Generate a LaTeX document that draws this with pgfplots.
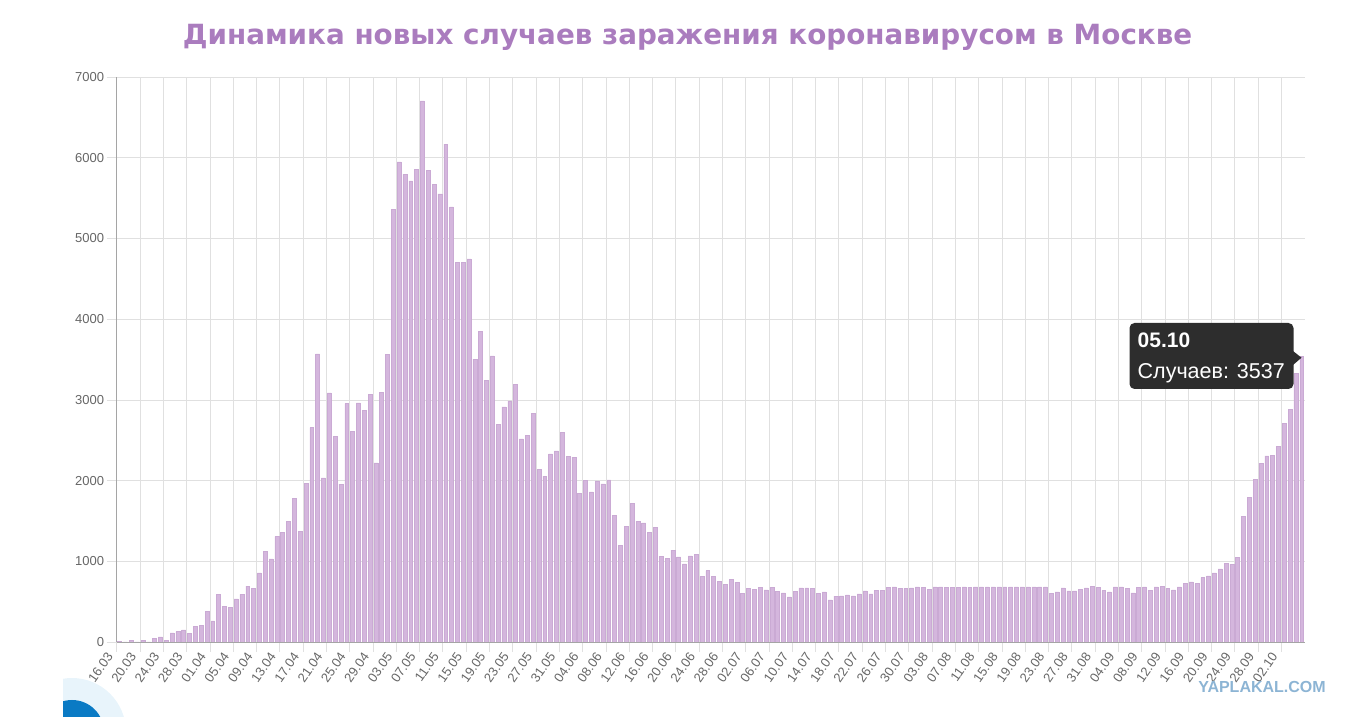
\documentclass[border=0pt]{standalone}
\usepackage{fontspec}
\setmainfont{Liberation Sans}
\newfontfamily\titlefont{DejaVu Sans}
\usepackage{pgfplots}
\usepackage{pgfplotstable}
\pgfplotsset{compat=1.18}
\definecolor{barfill}{RGB}{212,182,221}
\definecolor{barline}{RGB}{202,170,212}
\definecolor{titlecol}{RGB}{170,124,190}
\definecolor{gridcol}{RGB}{224,224,224}
\definecolor{axiscol}{RGB}{165,165,165}
\definecolor{tickcol}{RGB}{102,102,102}
\definecolor{tipcol}{RGB}{45,45,45}
\definecolor{wmcol}{RGB}{140,180,212}
\definecolor{iconblue}{RGB}{10,122,196}
\definecolor{iconlight}{RGB}{232,244,251}
\pgfplotstableread{
y
6
1
20
2
22
2
45
62
20
112
128
150
104
190
203
382
261
590
444
431
535
590
693
660
855
1124
1029
1307
1357
1490
1776
1373
1963
2656
3570
2033
3086
2548
1957
2953
2607
2962
2867
3071
2218
3090
3559
5358
5948
5795
5714
5858
6703
5846
5667
5551
6169
5392
4703
4703
4748
3505
3853
3238
3545
2699
2913
2988
3190
2516
2560
2830
2140
2054
2332
2367
2595
2303
2290
1846
2004
1859
1996
1959
2008
1573
1195
1436
1718
1494
1477
1361
1419
1062
1037
1137
1054
967
1066
1083
809
884
813
751
714
776
743
606
660
656
676
647
680
624
609
560
630
671
671
663
605
621
523
568
572
584
572
597
634
597
638
642
675
683
663
663
671
683
679
654
683
683
679
679
679
683
679
683
683
683
683
683
683
683
683
683
683
683
683
683
601
621
671
634
634
650
671
687
675
638
621
683
683
663
609
679
683
638
683
687
663
646
683
723
744
723
798
820
857
907
975
963
1050
1560
1792
2016
2217
2306
2311
2424
2704
2884
3327
3537
}\moscowdata
\begin{document}
\begin{tikzpicture}
\useasboundingbox (0pt,0pt) rectangle (1357pt,717pt);
\begin{scope}
\clip (63pt,-80pt) rectangle (200pt,60pt);
\fill[iconlight] (72pt,-15pt) circle (54pt);
\fill[iconblue] (72pt,-15pt) circle (32pt);
\end{scope}
\node[anchor=base, text=titlecol, font=\titlefont\fontsize{27.8}{32}\selectfont\bfseries] at (687.5pt,672pt) {Динамика новых случаев заражения коронавирусом в Москве};
\begin{axis}[
  at={(116.7pt,75pt)}, anchor=south west,
  scale only axis, width=1187.9pt, height=565pt,
  xmin=-0.5, xmax=203.5, ymin=0, ymax=7000,
  axis x line*=bottom, axis y line*=left,
  axis line style={axiscol, line width=0.8pt},
  xtick={-0.5,3.5,...,199.5},
  xticklabels={16.03,20.03,24.03,28.03,01.04,05.04,09.04,13.04,17.04,21.04,25.04,29.04,03.05,07.05,11.05,15.05,19.05,23.05,27.05,31.05,04.06,08.06,12.06,16.06,20.06,24.06,28.06,02.07,06.07,10.07,14.07,18.07,22.07,26.07,30.07,03.08,07.08,11.08,15.08,19.08,23.08,27.08,31.08,04.09,08.09,12.09,16.09,20.09,24.09,28.09,02.10},
  ytick={0,1000,...,7000},
  grid=major, grid style={gridcol, line width=0.6pt},
  tick align=outside, major tick length=10pt,
  tick style={gridcol, line width=0.6pt},
  ticklabel style={font=\fontsize{13}{15}\selectfont, text=tickcol},
  xticklabel style={anchor=north east, xshift=-11pt, yshift=2.2pt, rotate=55, inner sep=1pt},
  yticklabel style={inner sep=2.5pt},
  /pgf/number format/1000 sep={},
  /pgf/number format/assume math mode=true,
]
\addplot[ybar, bar width=3.9pt, fill=barfill, draw=barline, line width=0.5pt] table[x expr=\coordindex, y=y] {\moscowdata};
\end{axis}
\fill[tipcol, rounded corners=5pt] (1129.5pt,328pt) rectangle (1293.5pt,394pt);
\fill[tipcol] (1293pt,366pt) -- (1301.5pt,359.3pt) -- (1293pt,352pt) -- cycle;
\node[anchor=base west, text=white, font=\fontsize{21}{24}\selectfont\bfseries, inner sep=0pt] at (1137.5pt,369pt) {05.10};
\node[anchor=base west, text=white, font=\fontsize{21.5}{24}\selectfont, inner sep=0pt] at (1137.5pt,338.5pt) {Случаев: 3537};
\node[text=wmcol, font=\fontsize{16}{18}\selectfont\bfseries] at (1262pt,30pt) {YAPLAKAL.COM};
\end{tikzpicture}
\end{document}
